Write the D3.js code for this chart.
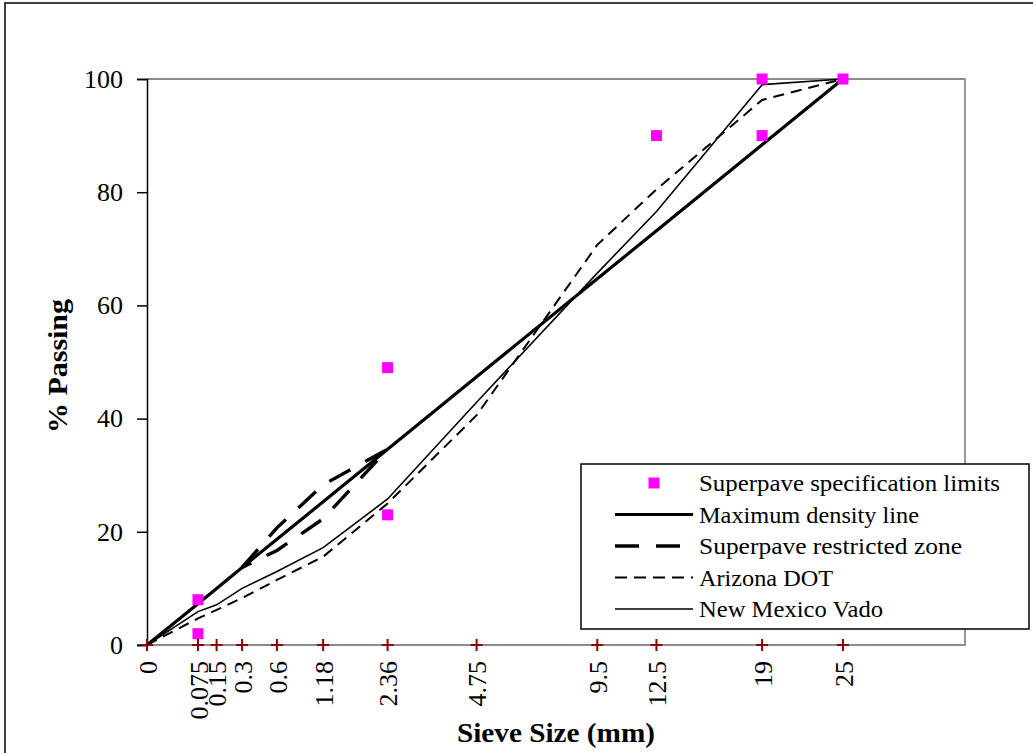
<!DOCTYPE html>
<html>
<head>
<meta charset="utf-8">
<script src="https://cdn.jsdelivr.net/npm/d3@7"></script>
<style>
  html, body { margin: 0; padding: 0; background: #fff; }
  svg text { font-family: "Liberation Serif", "Times New Roman", serif; fill: #000; }
</style>
</head>
<body>
<svg id="chart" width="1033" height="753"></svg>
<script>
// Sieve sizes (mm) and tick labels for the 0.45-power gradation chart
const sieves = [0, 0.075, 0.15, 0.3, 0.6, 1.18, 2.36, 4.75, 9.5, 12.5, 19, 25];
const sieveLabels = ["0", "0.075", "0.15", "0.3", "0.6", "1.18", "2.36", "4.75", "9.5", "12.5", "19", "25"];

// % passing for each gradation curve
const maxDensity = [0, 7.3, 10.0, 13.7, 18.7, 25.3, 34.6, 47.4, 64.7, 73.2, 88.4, 100];
const arizonaDOT = [0, 4.7, 6.2, 8.3, 11.5, 15.6, 25.0, 40.6, 70.7, 80.5, 96.3, 100];
const newMexicoVado = [0, 5.9, 7.1, 10.0, 13.0, 17.2, 25.8, 42.9, 65.7, 76.6, 99.0, 100];

// Superpave restricted zone (upper limits going up, lower limits coming back)
const zoneSieves = [0.3, 0.6, 1.18, 2.36, 1.18, 0.6, 0.3];
const zoneValues = [13.7, 20.7, 28.3, 34.6, 22.3, 16.7, 13.7];

// Superpave control points
const specSieves = [0.075, 0.075, 2.36, 2.36, 12.5, 19, 19, 25];
const specValues = [2, 8, 23, 49, 90, 90, 100, 100];

const yTicks = [0, 20, 40, 60, 80, 100];
const xMaxSieve = 35.8;

const svg = d3.select("#chart");
const plot = { left: 147, top: 79, right: 965, bottom: 645 };

const x = d3.scalePow().exponent(0.45).domain([0, xMaxSieve]).range([plot.left, plot.right]);
const y = d3.scaleLinear().domain([0, 100]).range([plot.bottom, plot.top]);

// outer chart frame
svg.append("rect")
  .attr("x", 5).attr("y", 3).attr("width", 1050).attr("height", 780)
  .attr("fill", "none").attr("stroke", "#000").attr("stroke-width", 1.5);

// plot area border (grey top/right/bottom)
svg.append("path")
  .attr("d", `M${plot.left},${plot.top}H${plot.right}V${plot.bottom}H${plot.left - 10}`)
  .attr("fill", "none").attr("stroke", "#8c8c8c").attr("stroke-width", 1.8);

// y axis
const yAxis = svg.append("g")
  .attr("transform", `translate(${plot.left},0)`)
  .call(d3.axisLeft(y).tickValues(yTicks).tickSize(10).tickPadding(14).tickFormat(d3.format("d")));
yAxis.select(".domain").attr("stroke", "#000").attr("stroke-width", 1.5);
yAxis.selectAll(".tick line").attr("stroke", "#000").attr("stroke-width", 1.5);
yAxis.selectAll(".tick text")
  .style("font-family", '"Liberation Serif", serif')
  .style("font-size", "26px")
  .attr("fill", "#000");

// x axis labels, rotated
const xAxis = svg.append("g")
  .attr("transform", `translate(0,${plot.bottom})`)
  .call(d3.axisBottom(x).tickValues(sieves).tickSize(0).tickPadding(0)
    .tickFormat((d, i) => sieveLabels[i]));
xAxis.select(".domain").remove();
xAxis.selectAll(".tick text")
  .style("font-family", '"Liberation Serif", serif')
  .style("font-size", "26px")
  .attr("fill", "#000")
  .attr("transform", "rotate(-90)")
  .attr("text-anchor", "end")
  .attr("x", -16)
  .attr("y", 0)
  .attr("dy", "0.35em");

// line generator for sieve/percent pairs
const line = d3.line().x(d => x(d[0])).y(d => y(d[1]));
const pairs = (xs, ys) => xs.map((s, i) => [s, ys[i]]);

svg.append("path")
  .datum(pairs(sieves, maxDensity))
  .attr("d", line).attr("fill", "none")
  .attr("stroke", "#000").attr("stroke-width", 3.2).attr("stroke-linejoin", "round");

svg.append("path")
  .datum(pairs(zoneSieves, zoneValues))
  .attr("d", line).attr("fill", "none")
  .attr("stroke", "#000").attr("stroke-width", 3.4)
  .attr("stroke-dasharray", "24,17");

svg.append("path")
  .datum(pairs(sieves, arizonaDOT))
  .attr("d", line).attr("fill", "none")
  .attr("stroke", "#000").attr("stroke-width", 2)
  .attr("stroke-dasharray", "11,7");

svg.append("path")
  .datum(pairs(sieves, newMexicoVado))
  .attr("d", line).attr("fill", "none")
  .attr("stroke", "#000").attr("stroke-width", 1.6);

// control point markers
const sq = 11;
svg.append("g").selectAll("rect")
  .data(pairs(specSieves, specValues))
  .join("rect")
  .attr("x", d => x(d[0]) - sq / 2).attr("y", d => y(d[1]) - sq / 2)
  .attr("width", sq).attr("height", sq)
  .attr("fill", "#ff00ff");

// sieve markers along the x axis
const pl = 6;
svg.append("g").selectAll("path")
  .data(sieves)
  .join("path")
  .attr("d", d => `M${x(d) - pl},${y(0)}H${x(d) + pl}M${x(d)},${y(0) - pl}V${y(0) + pl}`)
  .attr("stroke", "#8b0000").attr("stroke-width", 2);

// axis titles
svg.append("text")
  .attr("x", 556).attr("y", 742)
  .attr("text-anchor", "middle")
  .attr("textLength", 198).attr("lengthAdjust", "spacingAndGlyphs")
  .style("font-size", "28px").style("font-weight", "bold")
  .text("Sieve Size (mm)");

svg.append("text")
  .attr("transform", "translate(67,366) rotate(-90)")
  .attr("text-anchor", "middle")
  .attr("textLength", 134).attr("lengthAdjust", "spacingAndGlyphs")
  .style("font-size", "28px").style("font-weight", "bold")
  .text("% Passing");

// legend
const legend = svg.append("g");
legend.append("rect")
  .attr("x", 581).attr("y", 464).attr("width", 448).attr("height", 165)
  .attr("fill", "#fff").attr("stroke", "#000").attr("stroke-width", 1.5);

const legendItems = [
  { label: "Superpave specification limits", len: 301, type: "marker" },
  { label: "Maximum density line", len: 220, width: 3.2, dash: null },
  { label: "Superpave restricted zone", len: 263, width: 3.4, dash: "24,17" },
  { label: "Arizona DOT", len: 134, width: 2, dash: "12,7" },
  { label: "New Mexico Vado", len: 184, width: 1.6, dash: null }
];

legendItems.forEach((item, i) => {
  const cy = 483 + i * 31.5;
  if (item.type === "marker") {
    legend.append("rect")
      .attr("x", 654 - sq / 2).attr("y", cy - sq / 2)
      .attr("width", sq).attr("height", sq).attr("fill", "#ff00ff");
  } else {
    legend.append("line")
      .attr("x1", 615).attr("x2", 693).attr("y1", cy).attr("y2", cy)
      .attr("stroke", "#000").attr("stroke-width", item.width)
      .attr("stroke-dasharray", item.dash);
  }
  legend.append("text")
    .attr("x", 699).attr("y", cy + 8)
    .attr("textLength", item.len).attr("lengthAdjust", "spacingAndGlyphs")
    .style("font-size", "24px")
    .text(item.label);
});
</script>
</body>
</html>
